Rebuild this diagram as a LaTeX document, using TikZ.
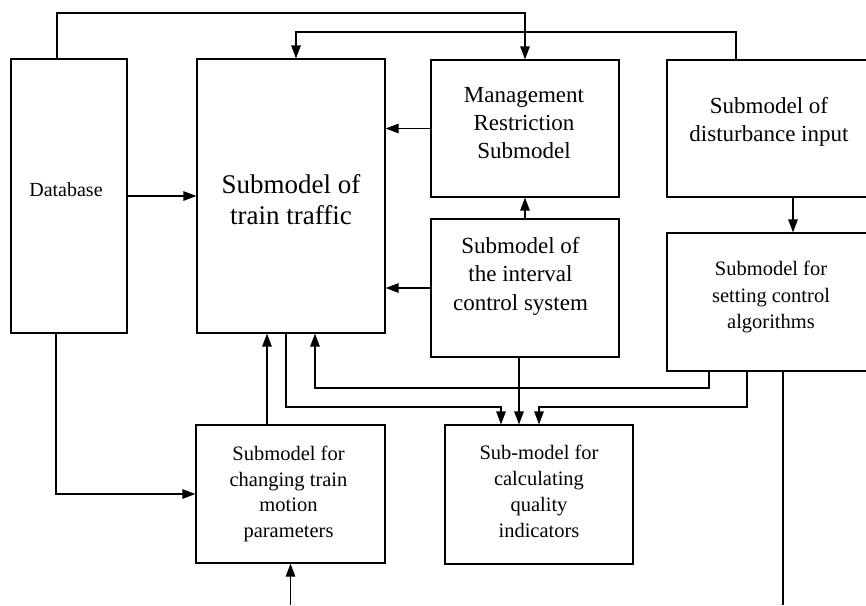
\documentclass[tikz,border=0pt]{standalone}
\usepackage{fontspec}
\setmainfont{Liberation Serif}
\usetikzlibrary{arrows.meta}
\begin{document}
\begin{tikzpicture}[x=1pt,y=-1pt,
  box/.style={draw,line width=1.2pt,rectangle,inner sep=0pt},
  lbl/.style={align=center,inner sep=0pt},
  arr/.style={line width=1.2pt,-{Triangle[length=13pt,width=9.5pt]}},
  ln/.style={line width=1.2pt}]
\useasboundingbox (0,0) rectangle (866,605);
\clip (0,0) rectangle (866,605);
% boxes
\node[box,minimum width=116pt,minimum height=274pt] (db) at (69,196) {};
\node[box,minimum width=188pt,minimum height=274pt] (tr) at (291,196) {};
\node[box,minimum width=188pt,minimum height=137pt] (mg) at (525,128.5) {};
\node[box,minimum width=188pt,minimum height=138pt] (iv) at (525,288) {};
\node[box,minimum width=204pt,minimum height=137pt] (ds) at (769,128.5) {};
\node[box,minimum width=204pt,minimum height=138pt] (ca) at (769,302) {};
\node[box,minimum width=189pt,minimum height=138pt] (ch) at (290.5,494) {};
\node[box,minimum width=188pt,minimum height=139pt] (q) at (539,494.5) {};
% labels
\node[lbl,font=\fontsize{20}{24}\selectfont] (dbt) at (66,190) {Database};
\node[lbl,font=\fontsize{27}{31}\selectfont] (trt) at (291,199.5) {Submodel of\\train traffic};
\node[lbl,font=\fontsize{23}{28}\selectfont] (mgt) at (524,123) {Management\\Restriction\\Submodel};
\node[lbl,font=\fontsize{23}{28}\selectfont] (dst) at (769,122) {Submodel of\\disturbance input};
\node[lbl,font=\fontsize{23}{28.5}\selectfont] (ivt) at (520.5,276) {Submodel of\\the interval\\control system};
\node[lbl,font=\fontsize{20.5}{26.5}\selectfont] (cat) at (771,297) {Submodel for\\setting control\\algorithms};
\node[lbl,font=\fontsize{20.5}{25.5}\selectfont] (cht) at (288.5,494) {Submodel for\\changing train\\motion\\parameters};
\node[lbl,font=\fontsize{20.5}{26}\selectfont] (qt) at (539,491.5) {Sub-model for\\calculating\\quality\\indicators};
% helper coordinates
\coordinate (c1) at (525,13);
\coordinate (c2) at (296,32);
\coordinate (c3) at (501,407);
\coordinate (c4) at (315,388);
\coordinate (c5) at (539,407);
\coordinate (in) at (290.5,605);
\coordinate (out) at (783,605);
\coordinate (chn) at ([xshift=-23.5pt]ch.north);
\coordinate (ivs) at ([xshift=-6pt]iv.south);
% connectors
\draw[arr] ([xshift=-12pt]db.north) |- (c1) -- (mg.north);
\draw[arr] ([xshift=-33pt]ds.north) |- (c2) -- ([xshift=5pt]tr.north);
\draw[arr] (db.east) -- (tr.west);
\draw[arr] (mg.west) -- (mg.west -| tr.east);
\draw[arr] (iv.west) -- (iv.west -| tr.east);
\draw[arr] (iv.north) -- (mg.south);
\draw[arr] ([xshift=24pt]ds.south) -- ([xshift=24pt]ca.north);
\draw[arr] ([xshift=-13pt]db.south) |- (ch.west);
\draw[arr] (chn) -- (chn |- tr.south);
\draw[arr] (in) -- (ch.south);
\draw[arr] ([xshift=-5pt]tr.south) |- (c3) -- (c3 |- q.north);
\draw[arr] ([xshift=-60pt]ca.south) |- (c4) -- (c4 |- tr.south);
\draw[arr] (ivs) -- (ivs |- q.north);
\draw[arr] ([xshift=-22pt]ca.south) |- (c5) -- (c5 |- q.north);
\draw[ln] ([xshift=14pt]ca.south) -- (out);
\end{tikzpicture}
\end{document}
